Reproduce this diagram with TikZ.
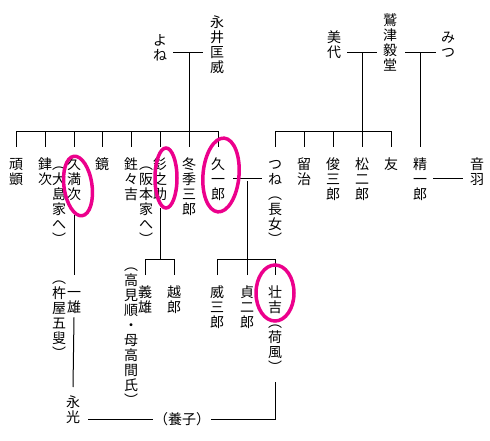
\documentclass[tikz,border=0pt]{standalone}
\usepackage{fontspec}
\newfontfamily\cjk{Noto Sans CJK JP}
\makeatletter
\newcommand\vcol[1]{\vbox{\offinterlineskip\@tfor\vc@ch:=#1\do{\hbox to 13pt{\hss\vrule width 0pt height 12.5pt depth 2.5pt\vc@ch\hss}}}}
\makeatother
\begin{document}
\begin{tikzpicture}[x=1pt,y=-1pt,
  vt/.style={inner sep=0pt, anchor=north, font=\cjk\fontsize{14}{15}\selectfont},
  ln/.style={line width=1pt},
  marriage/.style={double, double distance=2pt, line width=0.9pt},
  hl/.style={draw=magenta, line width=3.5pt}]
\useasboundingbox[fill=white] (0,0) rectangle (490,441);

% first generation
\node[vt] (kuniyoshi) at (217,15) {\vcol{永井匡威}};
\node[vt] (yone) at (160,33) {\vcol{よね}};
\node[vt] (miyo) at (334,30) {\vcol{美代}};
\node[vt] (kido) at (390,13) {\vcol{鷲津毅堂}};
\node[vt] (mitsu) at (448,30) {\vcol{みつ}};

% second generation (Nagai)
\node[vt] (c1) at (16,157) {\vcol{頑顗}};
\node[vt] (c2) at (45,157) {\vcol{銉次}};
\node[vt] (c3n) at (59,157) {\vcol{︵大島家へ︶}};
\node[vt] (c3) at (74,157) {\vcol{久満次}};
\node[vt] (c4) at (102,157) {\vcol{鏡}};
\node[vt] (c5) at (131,157) {\vcol{鉎々吉}};
\node[vt] (c6n) at (146,157) {\vcol{︵阪本家へ︶}};
\node[vt] (c6) at (160,157) {\vcol{釤之助}};
\node[vt] (c7) at (189,157) {\vcol{冬季三郎}};
\node[vt] (c8) at (218,157) {\vcol{久一郎}};

% second generation (Washizu)
\node[vt] (r1) at (275,157) {\vcol{つね︵長女︶}};
\node[vt] (r2) at (304,157) {\vcol{留治}};
\node[vt] (r3) at (333,157) {\vcol{俊三郎}};
\node[vt] (r4) at (362,157) {\vcol{松二郎}};
\node[vt] (r5) at (391,157) {\vcol{友}};
\node[vt] (r6) at (420,157) {\vcol{精一郎}};
\node[vt] (r7) at (477,157) {\vcol{音羽}};

% third generation
\node[vt] (ichio) at (74,285) {\vcol{一雄}};
\node[vt] (ichion) at (59,271) {\vcol{︵杵屋五叟︶}};
\node[vt] (h1n) at (131,258) {\vcol{︵高見順・母高間氏︶}};
\node[vt] (h1) at (145,285) {\vcol{義雄}};
\node[vt] (h2) at (174,285) {\vcol{越郎}};
\node[vt] (g1) at (217,285) {\vcol{威三郎}};
\node[vt] (g2) at (247,285) {\vcol{貞二郎}};
\node[vt] (g3) at (275,285) {\vcol{壮吉︵荷風︶}};

% fourth generation
\node[vt] (nagamitsu) at (73,395) {\vcol{永光}};
\node[inner xsep=1pt, inner ysep=0pt, font=\cjk\fontsize{14}{15}\selectfont] (yoshi) at (182,419) {（養子）};

% junctions
\coordinate (m1) at (189,51.5);
\coordinate (m2) at (362,51.5);
\coordinate (m3) at (420,51.5);
\coordinate (barL) at (189,132);
\coordinate (barR) at (362,132);
\coordinate (m4) at (247,179.5);
\coordinate (m5) at (448,179.5);
\coordinate (barK) at (247,259);
\coordinate (barS) at (160,259);

% descent lines
\draw[ln] (m1) -- (barL);
\draw[ln] ([yshift=10pt]c1.north) -- (c1.north |- barL) -- (c8.north |- barL) -- ([yshift=10pt]c8.north);
\foreach \n in {c2,c3,c4,c5,c6,c7} \draw[ln] ([yshift=10pt]\n.north) -- (\n.north |- barL);

\draw[ln] (m2) -- (barR);
\draw[ln] ([yshift=10pt]r1.north) -- (r1.north |- barR) -- (r5.north |- barR) -- ([yshift=10pt]r5.north);
\foreach \n in {r2,r3,r4} \draw[ln] ([yshift=10pt]\n.north) -- (\n.north |- barR);
\draw[ln] (m3) -- ([yshift=10pt]r6.north);

\draw[ln] (m4) -- (barK);
\draw[ln] ([yshift=10pt]g1.north) -- (g1.north |- barK) -- (g3.north |- barK) -- ([yshift=10pt]g3.north);
\draw[ln] ([yshift=10pt]g2.north) -- (g2.north |- barK);

\draw[ln] ([yshift=-6pt]c6.south) -- (barS);
\draw[ln] ([yshift=10pt]h1.north) -- (h1.north |- barS) -- (h2.north |- barS) -- ([yshift=10pt]h2.north);

\draw[ln] ([yshift=-13pt]c3.south) -- ([yshift=10pt]ichio.north);
\draw[ln] ([yshift=-2pt]ichio.south) -- ([yshift=8pt]nagamitsu.north);

\draw[ln] ([yshift=-7pt]g3.south) |- (yoshi.east);
\draw[ln] (yoshi.west) -- ([xshift=8.5pt]nagamitsu.east |- yoshi.west);

% marriages
\draw[marriage] ([xshift=6.5pt]yone.east |- m1) -- ([xshift=-7.5pt]kuniyoshi.west |- m1);
\draw[marriage] ([xshift=6.5pt]miyo.east |- m2) -- ([xshift=-6.5pt]kido.west |- m2);
\draw[marriage] ([xshift=8.5pt]kido.east |- m3) -- ([xshift=-5.5pt]mitsu.west |- m3);
\draw[marriage] ([xshift=8.5pt]c8.east |- m4) -- ([xshift=-6.5pt]r1.west |- m4);
\draw[marriage] ([xshift=6.5pt]r6.east |- m5) -- ([xshift=-7.5pt]r7.west |- m5);

% highlight circles
\draw[hl, rotate around={8:(78,186)}] (78,186) ellipse [x radius=14pt, y radius=30pt];
\draw[hl] (166,178) ellipse [x radius=11pt, y radius=30pt];
\draw[hl, rotate around={-5:(221,175)}] (221,175) ellipse [x radius=18pt, y radius=37pt];
\draw[hl] (275,293) ellipse [x radius=19pt, y radius=28pt];
\end{tikzpicture}
\end{document}
